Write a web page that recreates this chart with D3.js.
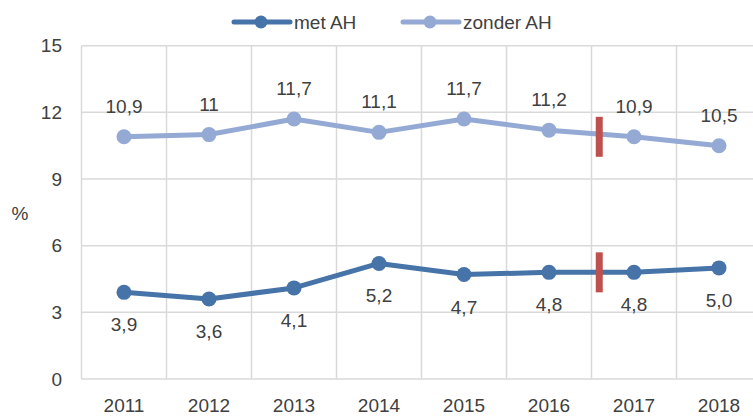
<!doctype html>
<html>
<head>
<meta charset="UTF-8">
<title>met AH / zonder AH</title>
<script src="https://cdn.jsdelivr.net/npm/d3@7"></script>
<style>
  body { margin: 0; background: #fff; }
  text { font-family: "Liberation Sans", Arial, sans-serif; fill: #404040; }
</style>
</head>
<body>
<svg id="chart" width="753" height="417"></svg>
<script>
var years = ["2011", "2012", "2013", "2014", "2015", "2016", "2017", "2018"];
var metAH = [3.9, 3.6, 4.1, 5.2, 4.7, 4.8, 4.8, 5.0];
var zonderAH = [10.9, 11.0, 11.7, 11.1, 11.7, 11.2, 10.9, 10.5];
var metLabels = ["3,9", "3,6", "4,1", "5,2", "4,7", "4,8", "4,8", "5,0"];
var zonderLabels = ["10,9", "11", "11,7", "11,1", "11,7", "11,2", "10,9", "10,5"];
var yTicks = [0, 3, 6, 9, 12, 15];
// trendbreuk tussen 2016 en 2017
var breakAfter = "2016";
var breakRanges = [[10.0, 11.8], [3.9, 5.7]];

var svg = d3.select("#chart");
var x = d3.scaleBand().domain(years).range([81.5, 761.5]);
var y = d3.scaleLinear().domain([0, 15]).range([379, 45.7]);
var cx = function(d){ return x(d) + x.bandwidth() / 2; };
var fs = "19px";

// grid
svg.append("g").selectAll("line").data(yTicks).enter().append("line")
  .attr("x1", x.range()[0]).attr("x2", x.range()[1])
  .attr("y1", function(d){ return y(d); }).attr("y2", function(d){ return y(d); })
  .attr("stroke", "#d9d9d9").attr("stroke-width", 1.5);
svg.append("g").selectAll("line").data(years).enter().append("line")
  .attr("x1", function(d){ return x(d); }).attr("x2", function(d){ return x(d); })
  .attr("y1", y(0)).attr("y2", y(15))
  .attr("stroke", "#d9d9d9").attr("stroke-width", 1.5);

// axes
var yAxis = svg.append("g").attr("transform", "translate(62,0)")
  .call(d3.axisLeft(y).tickValues(yTicks).tickSize(0).tickPadding(0));
yAxis.select(".domain").remove();
yAxis.selectAll("text").style("font-size", fs).attr("font-family", null);

var xAxis = svg.append("g").attr("transform", "translate(0,412)")
  .call(d3.axisBottom(x).tickSize(0).tickPadding(0));
xAxis.select(".domain").remove();
xAxis.selectAll("text").style("font-size", fs).attr("font-family", null)
  .attr("y", 0).attr("dy", 0);

svg.append("text").attr("x", 20).attr("y", 220).attr("text-anchor", "middle")
  .style("font-size", fs).text("%");

var series = [
  {name: "met AH", values: metAH, labels: metLabels, color: "#4673a8", dy: 39},
  {name: "zonder AH", values: zonderAH, labels: zonderLabels, color: "#94aad4", dy: -24}
];

var line = d3.line().x(function(d){ return cx(d.year); }).y(function(d){ return y(d.v); });

series.forEach(function(s){
  var pts = years.map(function(yr, i){ return {year: yr, v: s.values[i], label: s.labels[i]}; });
  svg.append("path").datum(pts).attr("d", line)
    .attr("fill", "none").attr("stroke", s.color).attr("stroke-width", 5)
    .attr("stroke-linejoin", "round");
  svg.append("g").selectAll("circle").data(pts).enter().append("circle")
    .attr("cx", function(d){ return cx(d.year); }).attr("cy", function(d){ return y(d.v); })
    .attr("r", 7.5).attr("fill", s.color);
  svg.append("g").selectAll("text").data(pts).enter().append("text")
    .attr("x", function(d){ return cx(d.year); })
    .attr("y", function(d){ return y(d.v) + s.dy; })
    .attr("text-anchor", "middle").style("font-size", fs)
    .text(function(d){ return d.label; });
});

// trendbreuk markers
svg.append("g").selectAll("rect").data(breakRanges).enter().append("rect")
  .attr("x", x(breakAfter) + x.bandwidth() * 1.05)
  .attr("y", function(d){ return y(d[1]); })
  .attr("width", 7)
  .attr("height", function(d){ return y(d[0]) - y(d[1]); })
  .attr("fill", "#c0504d");

// legend
var legend = svg.append("g").selectAll("g").data(series).enter().append("g")
  .attr("transform", function(d, i){ return "translate(" + (234 + i * 169) + ",22)"; });
legend.append("line").attr("x1", 0).attr("x2", 56)
  .attr("stroke", function(d){ return d.color; }).attr("stroke-width", 5).attr("stroke-linecap", "round");
legend.append("circle").attr("cx", 27).attr("r", 6.5).attr("fill", function(d){ return d.color; });
legend.append("text").attr("x", 60).attr("dy", "0.35em").style("font-size", fs)
  .text(function(d){ return d.name; });
</script>
</body>
</html>
